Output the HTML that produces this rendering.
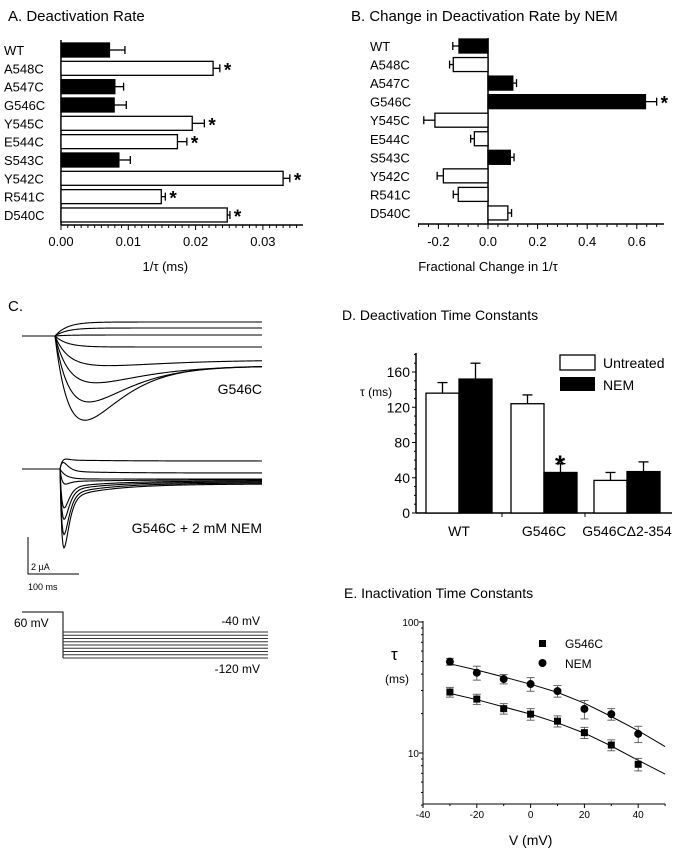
<!DOCTYPE html>
<html><head><meta charset="utf-8">
<style>
html,body{margin:0;padding:0;background:#fff;}
svg{display:block;font-family:"Liberation Sans",Arial,sans-serif;}
</style></head>
<body>
<svg id="fig" width="698" height="853" viewBox="0 0 698 853">
<g id="pA"></g>
<g id="pB"></g>
<g id="pC"></g>
<g id="pD"></g>
<g id="pE"></g>
</svg>
<script>
// ---------- Data ----------
const mutants = ["WT","A548C","A547C","G546C","Y545C","E544C","S543C","Y542C","R541C","D540C"];
const blackBars = [true,false,true,true,false,false,true,false,false,false];
const rateA = [0.0072,0.0226,0.0080,0.0079,0.0195,0.0173,0.0086,0.0330,0.0149,0.0247];
const rateAErr = [0.0023,0.0010,0.0013,0.0018,0.0018,0.0014,0.0017,0.0010,0.0006,0.0004];
const starA = [false,true,false,false,true,true,false,true,true,true];
const ticksA = ["0.00","0.01","0.02","0.03"];
const changeB = [-0.117,-0.14,0.10,0.635,-0.214,-0.055,0.09,-0.18,-0.12,0.08];
const changeBErr = [0.025,0.015,0.015,0.045,0.045,0.015,0.015,0.025,0.02,0.015];
const ticksB = ["-0.2","0.0","0.2","0.4","0.6"];
const groupsD = ["WT","G546C","G546CΔ2-354"];
const untreatedD = [136,124,37];
const untreatedErr = [12,10,9];
const nemD = [152,46,47];
const nemErr = [18,10,11];
const ticksD = [0,40,80,120,160];
const voltsE = [-30,-20,-10,0,10,20,30,40];
const g546cE = [29.2,25.8,21.8,19.8,17.5,14.3,11.5,8.2];
const g546cErr = [2.5,2.3,2,2,1.7,1.4,1.1,0.9];
const nemE = [49.8,41,36.7,33.6,29.7,21.7,19.8,14.0];
const nemEErr = [3,5,3,4,3,3.5,2,2];
const fitV = [-30,-20,-10,0,10,20,30,40,50];
const fitG546C = [28.5,25.5,22.5,19.8,17,14.2,11.3,8.8,6.9];
const fitNEM = [48,43,38,33.5,29,24,19,14.8,11.2];
const ticksEx = [-40,-20,0,20,40];
// traces (C)
const topPeak = [-14,-8,-1,11,30,48,68,87];
const topSteady = [-14,-8,-1,11,24,30,30,30];
const topTp = [20,20,20,40,45,35,30,27];
const botPeak = [-14,-5,10,21,48,61,78,93];
const botSteady = [-8,4,10,11,12,13,14,15];
const protoLevels = [-40,-50,-60,-70,-80,-90,-100,-110,-120];

const NS="http://www.w3.org/2000/svg";
function mk(parent,tag,attrs,text){const e=document.createElementNS(NS,tag);for(const k in attrs)e.setAttribute(k,attrs[k]);if(text!==undefined)e.textContent=text;parent.appendChild(e);return e;}

// ---------- Panel A ----------
(function(){
 const g=document.getElementById('pA');
 const x0=61,pxPer=6730,rowY=i=>50+i*18.33,bh=14,axY=225;
 const xs=v=>x0+v*pxPer;
 let t=mk(g,'text',{x:8,y:21,'font-size':15},'A.  Deactivation Rate');
 
 
 let a=mk(g,'line',{x1:x0,y1:40,x2:x0,y2:axY,stroke:'#000','stroke-width':1.5});
 
 
 a=mk(g,'line',{x1:x0,y1:axY,x2:303,y2:axY,stroke:'#000','stroke-width':1.5});
 
 
 for(let k=0;k<=35;k++){const v=k*0.001;mk(g,'line',{x1:xs(v),y1:axY,x2:xs(v),y2:axY+(k%10==0?5:3),stroke:'#000','stroke-width':1});}
 ticksA.forEach(s=>{const e=mk(g,'text',{x:xs(parseFloat(s)),y:246,'font-size':13,'text-anchor':'middle'},s);
  
  });
 t=mk(g,'text',{x:xs(0.0155),y:271,'font-size':13,'text-anchor':'middle'},'1/τ  (ms)');
 
 
 mutants.forEach((m,i)=>{
  const y=rowY(i);
  const l=mk(g,'text',{x:4,y:y+5,'font-size':13},m);
  
  
  const b=mk(g,'rect',{x:x0,y:y-bh/2,width:xs(rateA[i])-x0,height:bh,fill:blackBars[i]?'#000':'#fff',stroke:'#000','stroke-width':1.3});
  
  
  const xe=xs(rateA[i]+rateAErr[i]);
  mk(g,'line',{x1:xs(rateA[i]),y1:y,x2:xe,y2:y,stroke:'#000','stroke-width':1.3});
  mk(g,'line',{x1:xe,y1:y-4,x2:xe,y2:y+4,stroke:'#000','stroke-width':1.3});
  if(starA[i]){const s=mk(g,'text',{x:xe+4,y:y+8,'font-size':19,'font-weight':'bold'},'*');
   
   }
 });
})();

// ---------- Panel B ----------
(function(){
 const g=document.getElementById('pB');
 const x0=488,pxPer=248,rowY=i=>46+i*18.55,bh=14,axY=224;
 const xs=v=>x0+v*pxPer;
 let t=mk(g,'text',{x:351,y:21,'font-size':15},'B.  Change in Deactivation Rate by NEM');
 
 
 let a=mk(g,'line',{x1:x0,y1:38,x2:x0,y2:axY,stroke:'#000','stroke-width':1.5});
 
 
 a=mk(g,'line',{x1:418,y1:axY,x2:664,y2:axY,stroke:'#000','stroke-width':1.5});
 
 
 for(let k=-7;k<=17;k++){const v=k*0.04;const x=xs(v);if(x<417||x>665)continue;mk(g,'line',{x1:x,y1:axY,x2:x,y2:axY+(k%5==0?5:3),stroke:'#000','stroke-width':1});}
 ticksB.forEach(s=>{const e=mk(g,'text',{x:xs(parseFloat(s)),y:246,'font-size':13,'text-anchor':'middle'},s);
  
  });
 t=mk(g,'text',{x:xs(0.0),y:271,'font-size':13,'text-anchor':'middle'},'Fractional Change in 1/τ');
 
 
 mutants.forEach((m,i)=>{
  const y=rowY(i),v=changeB[i];
  const l=mk(g,'text',{x:370,y:y+5,'font-size':13},m);
  
  
  const b=mk(g,'rect',{x:Math.min(x0,xs(v)),y:y-bh/2,width:Math.abs(xs(v)-x0),height:bh,fill:blackBars[i]?'#000':'#fff',stroke:'#000','stroke-width':1.3});
  
  
  const xe=xs(v+Math.sign(v)*changeBErr[i]);
  mk(g,'line',{x1:xs(v),y1:y,x2:xe,y2:y,stroke:'#000','stroke-width':1.3});
  mk(g,'line',{x1:xe,y1:y-4,x2:xe,y2:y+4,stroke:'#000','stroke-width':1.3});
 });
 const s=mk(g,'text',{x:xs(changeB[3]+changeBErr[3])+4,y:rowY(3)+8,'font-size':19,'font-weight':'bold'},'*');
 
 
})();

// ---------- Panel C ----------
(function(){
 const g=document.getElementById('pC');
 let t=mk(g,'text',{x:8,y:311,'font-size':15},'C.');
 
 
 function trace(base,x0,xStart,xEnd,p,s,tp,rise,tailFrac,tailTau,name){
  let d=`M${xStart},${base} L${x0},${base}`;
  for(let x=x0;x<=xEnd;x+=1){const tt=x-x0;
   const bump=(tt/tp)*Math.exp(1-tt/tp);
   const tail=(1-Math.exp(-tt/tp))*Math.exp(-tt/tailTau);
   const y=base+s*(1-Math.exp(-tt/rise))+(p-s)*((1-tailFrac)*bump+tailFrac*tail);
   d+=` L${x},${y.toFixed(2)}`;}
  const e=mk(g,'path',{d:d,fill:'none',stroke:'#000','stroke-width':1.1});
  
  
 }
 topPeak.forEach((p,i)=>trace(336,55,22,262,p,topSteady[i],topTp[i],12,0,1,'trace-g546c'));
 botPeak.forEach((p,i)=>trace(469,60,22,262,p,botSteady[i],3.5,6,0.2,45,'trace-g546c-nem'));
 t=mk(g,'text',{x:262,y:394,'font-size':14,'text-anchor':'end'},'G546C');
 
 
 t=mk(g,'text',{x:262,y:533,'font-size':14,'text-anchor':'end'},'G546C + 2 mM NEM');
 
 
 const sb=mk(g,'path',{d:'M28,537 L28,574 L79,574',fill:'none',stroke:'#000','stroke-width':1});
 
 
 t=mk(g,'text',{x:31,y:570,'font-size':9},'2 µA');
 
 
 t=mk(g,'text',{x:28,y:590,'font-size':9},'100 ms');
 
 
 const vy=v=>632+(-40-v)*26/80;
 const pr=mk(g,'path',{d:`M22,612 L63,612 L63,${vy(-120)}`,fill:'none',stroke:'#000','stroke-width':1});
 
 
 protoLevels.forEach(v=>{const l=mk(g,'line',{x1:63,y1:vy(v),x2:268,y2:vy(v),stroke:'#333','stroke-width':0.9});
  
  });
 t=mk(g,'text',{x:14,y:627,'font-size':12},'60 mV');
 
 
 t=mk(g,'text',{x:260,y:625,'font-size':12,'text-anchor':'end'},'-40 mV');
 
 
 t=mk(g,'text',{x:260,y:673,'font-size':12,'text-anchor':'end'},'-120 mV');
 
 
})();

// ---------- Panel D ----------
(function(){
 const g=document.getElementById('pD');
 const ax=416,y0=513,ppu=141/160;
 const ys=v=>y0-v*ppu;
 let t=mk(g,'text',{x:342,y:320,'font-size':14},'D.  Deactivation Time Constants');
 
 
 let a=mk(g,'line',{x1:ax,y1:353,x2:ax,y2:y0,stroke:'#000','stroke-width':1.5});
 
 
 a=mk(g,'line',{x1:ax,y1:y0,x2:672,y2:y0,stroke:'#000','stroke-width':1.5});
 
 
 for(let v=0;v<=180;v+=10){mk(g,'line',{x1:ax-(v%40==0?4:2),y1:ys(v),x2:ax,y2:ys(v),stroke:'#000','stroke-width':1});}
 ticksD.forEach(v=>{const e=mk(g,'text',{x:ax-6,y:ys(v)+5,'font-size':14,'text-anchor':'end'},String(v));
  
  });
 t=mk(g,'text',{x:360,y:396,'font-size':12},'τ  (ms)');
 
 
 const gx=[426,511,594];
 [502,585].forEach(x=>mk(g,'line',{x1:x,y1:y0,x2:x,y2:y0+4,stroke:'#000'}));
 groupsD.forEach((name,i)=>{
  [[untreatedD,untreatedErr,'#fff',0,'untreated'],[nemD,nemErr,'#000',33,'nem']].forEach(([vals,errs,fill,off,key])=>{
   const x=gx[i]+off,w=33,v=vals[i];
   const cx=x+w/2;
   mk(g,'line',{x1:cx,y1:ys(v),x2:cx,y2:ys(v+errs[i]),stroke:'#000','stroke-width':1.3});
   mk(g,'line',{x1:cx-5,y1:ys(v+errs[i]),x2:cx+5,y2:ys(v+errs[i]),stroke:'#000','stroke-width':1.3});
   const r=mk(g,'rect',{x:x,y:ys(v),width:w,height:y0-ys(v),fill:fill,stroke:'#000','stroke-width':1.3});
   
   
  });
  const l=mk(g,'text',{x:gx[i]+33,y:536,'font-size':14,'text-anchor':'middle'},name);
  
  
 });
 const s=mk(g,'text',{x:gx[1]+49,y:ys(nemD[1]+nemErr[1])+10,'font-size':26,'font-weight':'bold','text-anchor':'middle'},'*');
 
 
 let lb=mk(g,'rect',{x:560,y:355,width:35,height:15,fill:'#fff',stroke:'#000','stroke-width':1.3});
 
 
 lb=mk(g,'rect',{x:560,y:377,width:35,height:14,fill:'#000'});
 
 
 t=mk(g,'text',{x:603,y:368,'font-size':14},'Untreated');
 
 
 t=mk(g,'text',{x:603,y:390,'font-size':14},'NEM');
 
 
})();

// ---------- Panel E ----------
(function(){
 const g=document.getElementById('pE');
 const ax=423,xs=v=>ax+(v+40)*26.9/10;
 const ys=v=>753-(Math.log10(v)-1)*131;
 const yb=804;
 let t=mk(g,'text',{x:344,y:598,'font-size':14},'E.  Inactivation Time Constants');
 
 
 let a=mk(g,'line',{x1:ax,y1:621,x2:ax,y2:yb,stroke:'#000','stroke-width':1});
 
 
 a=mk(g,'line',{x1:ax,y1:yb,x2:xs(50),y2:yb,stroke:'#000','stroke-width':1});
 
 
 [4,5,6,7,8,9,10,20,30,40,50,60,70,80,90,100].forEach(v=>{const big=(v==10||v==100);
  mk(g,'line',{x1:ax-(big?4:2),y1:ys(v),x2:ax,y2:ys(v),stroke:'#000','stroke-width':1});});
 [10,100].forEach(v=>{const e=mk(g,'text',{x:ax-4,y:ys(v)+4,'font-size':10,'text-anchor':'end'},String(v));
  
  });
 for(let v=-40;v<=50;v+=10)mk(g,'line',{x1:xs(v),y1:yb,x2:xs(v),y2:yb+(v%20==0?4:2),stroke:'#000'});
 ticksEx.forEach(v=>{const e=mk(g,'text',{x:xs(v),y:818,'font-size':10,'text-anchor':'middle'},String(v));
  
  });
 t=mk(g,'text',{x:xs(0),y:845,'font-size':14,'text-anchor':'middle'},'V (mV)');
 
 
 t=mk(g,'text',{x:391,y:660,'font-size':17},'τ');
 
 
 t=mk(g,'text',{x:385,y:683,'font-size':12},'(ms)');
 
 
 [[fitG546C,'fit-g546c'],[fitNEM,'fit-nem']].forEach(([f,n])=>{
  let d='';f.forEach((v,i)=>{d+=(i?' L':'M')+xs(fitV[i]).toFixed(1)+','+ys(v).toFixed(1);});
  const p=mk(g,'path',{d:d,fill:'none',stroke:'#000','stroke-width':1});
  
  
 });
 function eb(x,v,e){const y1=ys(v+e),y2=ys(v-e);
  mk(g,'line',{x1:x,y1:y1,x2:x,y2:y2,stroke:'#555','stroke-width':0.9});
  mk(g,'line',{x1:x-4,y1:y1,x2:x+4,y2:y1,stroke:'#555','stroke-width':0.9});
  mk(g,'line',{x1:x-4,y1:y2,x2:x+4,y2:y2,stroke:'#555','stroke-width':0.9});}
 voltsE.forEach((v,i)=>{
  const x=xs(v);
  eb(x,g546cE[i],g546cErr[i]);
  const sq=mk(g,'rect',{x:x-3.5,y:ys(g546cE[i])-3.5,width:7,height:7,fill:'#000'});
  
  
  eb(x,nemE[i],nemEErr[i]);
  const c=mk(g,'circle',{cx:x,cy:ys(nemE[i]),r:4,fill:'#000'});
  
  
 });
 let lg=mk(g,'rect',{x:539,y:640,width:7,height:7,fill:'#000'});
 
 
 lg=mk(g,'circle',{cx:542.5,cy:663,r:4,fill:'#000'});
 
 
 t=mk(g,'text',{x:565,y:648,'font-size':12},'G546C');
 
 
 t=mk(g,'text',{x:565,y:668,'font-size':12},'NEM');
 
 
})();
</script>
</body></html>
